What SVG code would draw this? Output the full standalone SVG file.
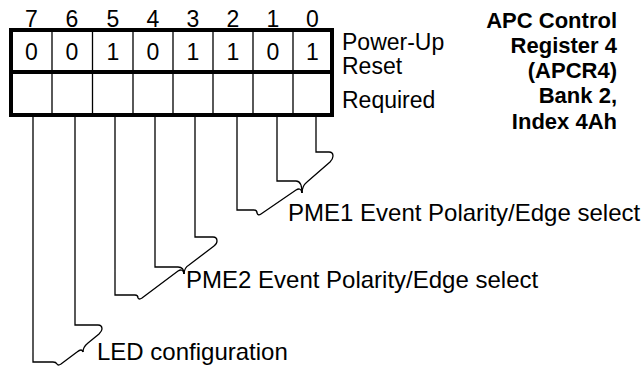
<svg xmlns="http://www.w3.org/2000/svg" width="642" height="366" viewBox="0 0 642 366">
<style>
text{font-family:"Liberation Sans",Arial,sans-serif;fill:#000}
.hd{font-size:23px;text-anchor:middle}
.val{font-size:23px;text-anchor:middle}
.side{font-size:23px}
.lbl{font-size:24px}
.title{font-size:22px;font-weight:bold;text-anchor:end}
.thin{stroke:#000;stroke-width:1.3;fill:none}
.thick{stroke:#000;stroke-width:4;fill:none}
</style>
<rect width="642" height="366" fill="#fff"/>
<g id="bitnumbers">
<text class="hd" x="31.5" y="26.5">7</text>
<text class="hd" x="72" y="26.5">6</text>
<text class="hd" x="113" y="26.5">5</text>
<text class="hd" x="153" y="26.5">4</text>
<text class="hd" x="193" y="26.5">3</text>
<text class="hd" x="233" y="26.5">2</text>
<text class="hd" x="273" y="26.5">1</text>
<text class="hd" x="312.5" y="26.5">0</text>
</g>
<g id="register">
<path class="thin" d="M52,30V115M92.5,30V115M133,30V115M173,30V115M213,30V115M253,30V115M293,30V115"/>
<rect class="thick" x="11" y="30" width="321" height="85"/>
<line class="thick" x1="11" y1="72" x2="332" y2="72"/>
<text class="val" x="31.5" y="59.5">0</text>
<text class="val" x="72" y="59.5">0</text>
<text class="val" x="113" y="59.5">1</text>
<text class="val" x="153" y="59.5">0</text>
<text class="val" x="193" y="59.5">1</text>
<text class="val" x="233" y="59.5">1</text>
<text class="val" x="273" y="59.5">0</text>
<text class="val" x="312.5" y="59.5">1</text>
</g>
<g id="rowlabels">
<text class="side" x="342" y="50">Power-Up</text>
<text class="side" x="342" y="74">Reset</text>
<text class="side" x="342" y="108">Required</text>
</g>
<g id="title">
<text class="title" x="617" y="28">APC Control</text>
<text class="title" x="617" y="53">Register 4</text>
<text class="title" x="617" y="78">(APCR4)</text>
<text class="title" x="617" y="103">Bank 2,</text>
<text class="title" x="617" y="129">Index 4Ah</text>
</g>
<g id="connectors">
<path class="thin" d="M316,117V152H329Q333,152 333,156Q333,159 330,162L307,182Q302,186 302,193"/>
<path class="thin" d="M277,117V181H296Q302,181 302,193"/>
<path class="thin" d="M237,117V210H254Q257,210 257,213Q258,216 261,214L296,190Q301,187 302,193"/>
<path class="thin" d="M195,117V237H213Q217,237 217,241Q217,244 214,246L189,265Q184,268 184,274"/>
<path class="thin" d="M155,117V267H178Q184,267 184,274"/>
<path class="thin" d="M115,117V295H135Q138,295 138,298Q139,300 142,298L178,271Q183,268 184,274"/>
<path class="thin" d="M75,117V325H98Q102,325 102,329Q102,331 99,334L88,343Q83,347 83,352"/>
<path class="thin" d="M33,117V362H53Q56,362 57,364Q58,366 61,364L77,352Q82,348 83,352"/>
</g>
<g id="pme1-label"><text class="lbl" x="288" y="221">PME1 Event Polarity/Edge select</text></g>
<g id="pme2-label"><text class="lbl" x="186" y="288">PME2 Event Polarity/Edge select</text></g>
<g id="led-label"><text class="lbl" x="97" y="360">LED configuration</text></g>
</svg>
